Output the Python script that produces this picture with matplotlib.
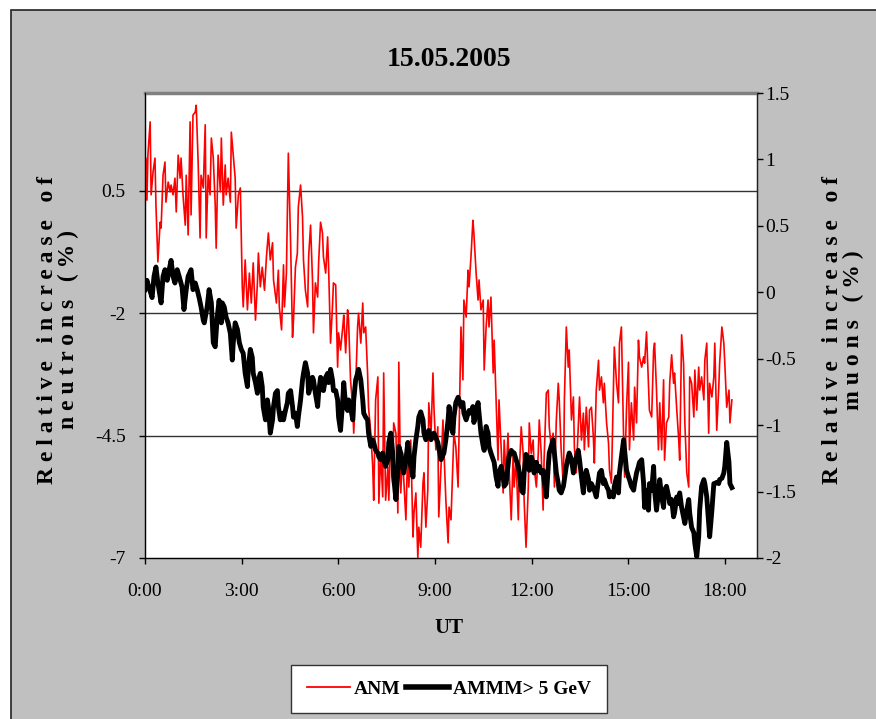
import matplotlib
matplotlib.use("Agg")
import matplotlib.pyplot as plt
from matplotlib.patches import Rectangle

plt.rcParams["font.family"] = ["Liberation Serif", "DejaVu Serif"]
plt.rcParams["axes.unicode_minus"] = False

# ANM neutron monitor, relative increase (%), left axis
anm_time = [
    0.00, 0.03, 0.06, 0.09, 0.16, 0.19, 0.25, 0.31, 0.34, 0.40, 0.47, 0.50, 0.56, 0.62, 0.65, 0.72,
    0.78, 0.81, 0.87, 0.93, 0.97, 1.03, 1.09, 1.12, 1.18, 1.25, 1.28, 1.34, 1.40, 1.43, 1.49, 1.56,
    1.59, 1.65, 1.71, 1.74, 1.81, 1.87, 1.90, 1.96, 2.02, 2.06, 2.12, 2.18, 2.21, 2.27, 2.34, 2.37,
    2.43, 2.49, 2.52, 2.58, 2.65, 2.68, 2.74, 2.80, 2.83, 2.90, 2.96, 3.02, 3.05, 3.11, 3.18, 3.24,
    3.30, 3.36, 3.43, 3.49, 3.52, 3.58, 3.64, 3.71, 3.77, 3.83, 3.89, 3.96, 3.99, 4.08, 4.14, 4.17,
    4.24, 4.30, 4.33, 4.39, 4.45, 4.52, 4.58, 4.61, 4.67, 4.73, 4.76, 4.83, 4.89, 4.92, 4.98, 5.05,
    5.08, 5.14, 5.20, 5.23, 5.29, 5.36, 5.39, 5.45, 5.51, 5.54, 5.61, 5.67, 5.70, 5.76, 5.82, 5.85,
    5.92, 5.98, 6.01, 6.07, 6.14, 6.17, 6.23, 6.29, 6.32, 6.38, 6.45, 6.48, 6.54, 6.60, 6.63, 6.70,
    6.76, 6.79, 6.85, 6.91, 6.94, 7.01, 7.07, 7.10, 7.16, 7.23, 7.26, 7.32, 7.38, 7.41, 7.47, 7.54,
    7.57, 7.63, 7.69, 7.72, 7.79, 7.85, 7.88, 7.94, 8.00, 8.03, 8.10, 8.16, 8.19, 8.25, 8.32, 8.35,
    8.41, 8.47, 8.50, 8.56, 8.63, 8.66, 8.72, 8.78, 8.81, 8.88, 8.94, 8.97, 9.03, 9.09, 9.12, 9.19,
    9.25, 9.28, 9.34, 9.41, 9.44, 9.50, 9.56, 9.59, 9.65, 9.72, 9.75, 9.81, 9.87, 9.90, 9.97, 10.03,
    10.06, 10.12, 10.18, 10.21, 10.28, 10.34, 10.37, 10.43, 10.50, 10.53, 10.59, 10.65, 10.68, 10.74,
    10.81, 10.84, 10.90, 10.96, 10.99, 11.06, 11.12, 11.15, 11.21, 11.27, 11.30, 11.37, 11.43, 11.46,
    11.52, 11.59, 11.62, 11.68, 11.74, 11.77, 11.83, 11.90, 11.93, 11.99, 12.05, 12.08, 12.15, 12.21,
    12.24, 12.30, 12.36, 12.39, 12.46, 12.52, 12.55, 12.61, 12.67, 12.71, 12.77, 12.83, 12.86, 12.92,
    12.99, 13.02, 13.08, 13.14, 13.17, 13.24, 13.30, 13.33, 13.39, 13.45, 13.49, 13.55, 13.61, 13.64,
    13.70, 13.77, 13.80, 13.86, 13.92, 13.95, 14.01, 14.08, 14.11, 14.17, 14.23, 14.26, 14.33, 14.39,
    14.42, 14.48, 14.54, 14.57, 14.64, 14.70, 14.73, 14.79, 14.86, 14.89, 14.95, 15.01, 15.04, 15.10,
    15.17, 15.20, 15.26, 15.32, 15.35, 15.42, 15.48, 15.51, 15.57, 15.63, 15.66, 15.73, 15.79, 15.82,
    15.88, 15.94, 15.98, 16.04, 16.10, 16.13, 16.19, 16.26, 16.29, 16.35, 16.41, 16.44, 16.51, 16.57,
    16.60, 16.66, 16.72, 16.76, 16.82, 16.88, 16.91, 16.97, 17.04, 17.07, 17.13, 17.19, 17.22, 17.28,
    17.35, 17.38, 17.44, 17.50, 17.53, 17.60, 17.66, 17.69, 17.75, 17.81, 17.84, 17.91, 17.97, 18.00,
    18.06, 18.13, 18.16, 18.22,
]
anm_values = [
    0.05, 1.17, 0.31, 1.23, 1.91, 0.42, 0.89, 1.17, 0.21, -0.95, -0.14, -0.26, 0.82, 1.09, 0.27, 0.68,
    0.48, 0.62, 0.42, 0.76, 0.07, 1.23, 0.76, 1.17, 0.42, -0.20, 0.82, -0.40, 1.91, 0.01, 2.05, 2.11,
    2.25, 1.09, -0.46, 0.82, 0.56, 1.85, -0.46, 0.82, 0.42, 1.58, 1.17, 0.21, -0.67, 1.23, 0.48, 1.58,
    0.21, 1.03, 0.42, 0.76, 0.27, 1.70, 1.23, 0.76, -0.26, 0.42, 0.56, -1.46, -1.87, -0.91, -1.93, -1.18,
    -1.79, -0.97, -2.14, -1.38, -0.77, -1.46, -1.06, -1.53, -0.85, -0.36, -0.91, -0.56, -1.32, -1.79, -1.12, -1.87,
    -2.34, -1.01, -1.87, -1.18, 1.27, -0.56, -2.49, -2.14, -1.06, -0.77, 0.17, 0.62, -0.03, -0.91, -1.53, -1.87,
    -0.85, -0.20, -1.32, -2.40, -1.38, -1.67, -0.97, -0.14, -0.36, -0.85, -1.18, -0.44, -1.06, -2.61, -1.87, -1.38,
    -1.42, -3.10, -2.40, -2.75, -2.28, -2.04, -2.81, -1.93, -2.14, -3.36, -3.92, -4.45, -3.51, -2.28, -2.00, -2.61,
    -1.79, -2.40, -2.28, -3.22, -3.92, -4.45, -5.14, -5.82, -3.77, -3.30, -5.88, -4.86, -5.75, -3.22, -5.82, -5.14,
    -5.82, -4.45, -5.47, -4.24, -4.45, -6.08, -3.00, -5.67, -4.86, -5.35, -6.22, -4.65, -5.55, -4.59, -6.57, -6.08,
    -5.67, -7.00, -6.37, -6.78, -5.47, -5.26, -6.37, -5.61, -3.83, -4.45, -3.22, -3.92, -4.79, -4.32, -6.16, -5.14,
    -4.18, -4.79, -5.82, -6.69, -5.96, -6.22, -5.00, -4.45, -4.73, -5.55, -4.45, -2.28, -3.36, -1.73, -2.08, -1.12,
    -1.46, -0.85, -0.10, -0.36, -1.18, -1.73, -1.32, -1.93, -1.73, -3.16, -2.28, -1.73, -2.28, -1.67,
    -3.22, -2.55, -3.77, -5.00, -3.77, -4.79, -5.67, -4.59, -5.35, -4.45, -5.14, -6.22, -4.86, -5.55,
    -5.00, -6.22, -5.26, -4.32, -4.86, -5.82, -6.78, -5.55, -4.24, -4.86, -4.59, -5.14, -5.55, -4.86,
    -4.18, -4.86, -6.02, -5.00, -3.63, -3.57, -4.32, -4.73, -4.45, -5.55, -4.18, -3.43, -3.77, -4.79,
    -5.55, -3.77, -2.28, -3.10, -2.75, -4.18, -3.71, -4.73, -5.26, -4.32, -3.71, -4.59, -4.04, -4.79,
    -3.92, -4.73, -3.98, -3.92, -4.53, -5.06, -3.57, -2.96, -3.57, -3.30, -3.83, -3.43, -4.24, -4.65,
    -5.20, -5.47, -3.57, -2.69, -3.43, -3.83, -2.61, -2.28, -4.59, -5.35, -3.92, -3.00, -4.79, -3.83,
    -4.59, -3.51, -4.24, -2.55, -2.89, -3.10, -2.89, -3.02, -2.38, -3.43, -3.98, -4.12, -2.75, -2.61,
    -3.57, -4.79, -3.83, -4.79, -3.36, -5.00, -4.24, -4.12, -3.43, -2.85, -3.43, -3.22, -3.98, -4.59,
    -5.00, -2.44, -3.02, -4.24, -5.26, -5.55, -3.30, -3.43, -4.12, -3.16, -3.98, -3.10, -3.57, -3.30,
    -3.77, -2.96, -2.61, -4.45, -3.43, -3.71, -3.30, -2.61, -4.39, -3.57, -3.02, -2.28, -2.61, -3.02,
    -3.92, -3.57, -4.24, -3.77,
]

# AMMM muon monitor (> 5 GeV), relative increase (%), right axis
ammm_time = [
    0.00, 0.06, 0.12, 0.22, 0.28, 0.34, 0.40, 0.50, 0.56, 0.62, 0.69, 0.75, 0.81, 0.87, 0.93, 1.00,
    1.06, 1.15, 1.21, 1.28, 1.34, 1.43, 1.49, 1.56, 1.62, 1.68, 1.74, 1.81, 1.84, 1.93, 1.99, 2.06,
    2.12, 2.18, 2.24, 2.30, 2.37, 2.40, 2.46, 2.52, 2.58, 2.65, 2.71, 2.74, 2.80, 2.87, 2.93, 2.99,
    3.05, 3.11, 3.18, 3.21, 3.27, 3.33, 3.36, 3.43, 3.49, 3.52, 3.58, 3.64, 3.67, 3.74, 3.80, 3.83,
    3.89, 3.96, 3.99, 4.05, 4.11, 4.14, 4.20, 4.27, 4.30, 4.36, 4.42, 4.45, 4.52, 4.58, 4.61, 4.67,
    4.73, 4.76, 4.83, 4.89, 4.92, 4.98, 5.05, 5.08, 5.14, 5.20, 5.23, 5.29, 5.36, 5.39, 5.45, 5.51,
    5.54, 5.61, 5.67, 5.70, 5.76, 5.82, 5.85, 5.92, 5.98, 6.01, 6.07, 6.14, 6.17, 6.23, 6.29, 6.32,
    6.38, 6.45, 6.48, 6.54, 6.60, 6.63, 6.70, 6.76, 6.79, 6.85, 6.91, 6.94, 7.01, 7.07, 7.10, 7.16,
    7.23, 7.26, 7.32, 7.38, 7.41, 7.47, 7.54, 7.57, 7.63, 7.69, 7.72, 7.79, 7.85, 7.88, 7.94, 8.00,
    8.03, 8.10, 8.16, 8.19, 8.25, 8.32, 8.35, 8.41, 8.47, 8.50, 8.56, 8.63, 8.66, 8.72, 8.78, 8.81,
    8.88, 8.97, 9.09, 9.19, 9.28, 9.34, 9.41, 9.44, 9.50, 9.56, 9.59, 9.65, 9.72, 9.75, 9.81, 9.87,
    9.90, 9.97, 10.03, 10.06, 10.12, 10.18, 10.21, 10.28, 10.34, 10.37, 10.43, 10.50, 10.53, 10.59,
    10.65, 10.68, 10.74, 10.81, 10.84, 10.90, 10.96, 10.99, 11.06, 11.12, 11.15, 11.21, 11.27, 11.30,
    11.37, 11.43, 11.46, 11.52, 11.59, 11.62, 11.68, 11.74, 11.77, 11.83, 11.90, 11.93, 11.99, 12.05,
    12.08, 12.15, 12.21, 12.24, 12.30, 12.36, 12.39, 12.46, 12.52, 12.55, 12.61, 12.67, 12.71, 12.77,
    12.83, 12.86, 12.92, 12.99, 13.02, 13.08, 13.14, 13.17, 13.24, 13.30, 13.33, 13.39, 13.45, 13.49,
    13.55, 13.61, 13.64, 13.70, 13.77, 13.80, 13.86, 13.95, 14.01, 14.08, 14.11, 14.17, 14.23, 14.26,
    14.33, 14.39, 14.42, 14.48, 14.54, 14.57, 14.64, 14.70, 14.73, 14.79, 14.86, 14.89, 14.95, 15.01,
    15.04, 15.10, 15.17, 15.20, 15.26, 15.32, 15.35, 15.42, 15.48, 15.51, 15.57, 15.63, 15.66, 15.73,
    15.79, 15.82, 15.88, 15.94, 15.98, 16.04, 16.10, 16.13, 16.19, 16.26, 16.29, 16.35, 16.41, 16.44,
    16.51, 16.57, 16.60, 16.66, 16.72, 16.76, 16.82, 16.88, 16.91, 16.97, 17.04, 17.07, 17.13, 17.19,
    17.22, 17.28, 17.35, 17.38, 17.44, 17.50, 17.53, 17.60, 17.66, 17.69, 17.75, 17.81, 17.84, 17.91,
    17.97, 18.00, 18.06, 18.13, 18.16, 18.22,
]
ammm_values = [
    0.02, 0.09, 0.04, -0.04, 0.12, 0.19, 0.07, -0.08, 0.12, 0.17, 0.09, 0.17, 0.24, 0.12, 0.07, 0.17,
    0.12, 0.04, -0.13, 0.02, 0.12, 0.17, 0.02, 0.07, 0.02, -0.04, -0.11, -0.21, -0.23, -0.11, 0.02, -0.08,
    -0.38, -0.41, -0.19, -0.06, -0.23, -0.08, -0.11, -0.19, -0.23, -0.31, -0.51, -0.38, -0.23, -0.28, -0.38, -0.43,
    -0.46, -0.61, -0.71, -0.56, -0.43, -0.49, -0.61, -0.68, -0.76, -0.66, -0.61, -0.71, -0.86, -0.96, -0.81, -0.86,
    -1.06, -0.96, -0.86, -0.76, -0.74, -0.86, -0.96, -0.91, -0.96, -0.89, -0.83, -0.76, -0.74, -0.86, -0.94, -0.91,
    -1.01, -0.94, -0.81, -0.66, -0.61, -0.53, -0.61, -0.76, -0.71, -0.64, -0.66, -0.76, -0.86, -0.76, -0.64, -0.66,
    -0.74, -0.64, -0.61, -0.68, -0.58, -0.66, -0.74, -0.74, -0.81, -0.94, -1.04, -0.81, -0.68, -0.86, -0.89, -0.81,
    -0.86, -0.96, -0.81, -0.66, -0.61, -0.58, -0.66, -0.81, -0.91, -0.94, -0.96, -1.06, -1.16, -1.11, -1.13, -1.19,
    -1.21, -1.24, -1.26, -1.21, -1.26, -1.31, -1.26, -1.13, -1.06, -1.21, -1.39, -1.56, -1.36, -1.16, -1.21, -1.31,
    -1.36, -1.26, -1.13, -1.21, -1.31, -1.39, -1.24, -1.11, -1.01, -0.94, -0.90, -0.96, -1.06, -1.11, -1.06, -1.04,
    -1.11, -1.06, -1.13, -1.26, -1.21, -1.11, -0.96, -0.86, -1.01, -1.06, -0.94, -0.83, -0.79, -0.81, -0.86, -0.83,
    -0.91, -0.96, -0.91, -0.89, -0.91, -0.86, -0.98, -0.91, -0.83, -0.91, -1.06, -1.16, -1.19, -1.01,
    -1.06, -1.16, -1.21, -1.26, -1.28, -1.39, -1.46, -1.36, -1.31, -1.39, -1.46, -1.44, -1.31, -1.24,
    -1.19, -1.21, -1.21, -1.26, -1.31, -1.36, -1.49, -1.51, -1.36, -1.22, -1.26, -1.34, -1.24, -1.28,
    -1.36, -1.28, -1.34, -1.31, -1.36, -1.34, -1.41, -1.54, -1.31, -1.21, -1.16, -1.11, -1.21, -1.36,
    -1.44, -1.49, -1.51, -1.46, -1.41, -1.31, -1.24, -1.21, -1.26, -1.36, -1.31, -1.24, -1.19, -1.26,
    -1.39, -1.51, -1.41, -1.34, -1.41, -1.49, -1.44, -1.49, -1.54, -1.41, -1.36, -1.34, -1.44, -1.41,
    -1.46, -1.49, -1.54, -1.51, -1.54, -1.46, -1.39, -1.51, -1.36, -1.24, -1.11, -1.19, -1.34, -1.39,
    -1.41, -1.46, -1.49, -1.44, -1.36, -1.31, -1.28, -1.26, -1.44, -1.62, -1.49, -1.64, -1.44, -1.49,
    -1.31, -1.49, -1.64, -1.51, -1.41, -1.54, -1.62, -1.49, -1.46, -1.54, -1.59, -1.56, -1.69, -1.66,
    -1.54, -1.59, -1.51, -1.62, -1.69, -1.74, -1.64, -1.56, -1.66, -1.77, -1.81, -1.89, -1.99, -1.84,
    -1.64, -1.46, -1.41, -1.44, -1.54, -1.74, -1.84, -1.64, -1.44, -1.44, -1.43, -1.44, -1.41, -1.40,
    -1.36, -1.31, -1.13, -1.28, -1.44, -1.47,
]

left_ticks = [0.5, -2, -4.5, -7]
right_ticks = [1.5, 1, 0.5, 0, -0.5, -1, -1.5, -2]
hour_ticks = [0, 3, 6, 9, 12, 15, 18]
hour_labels = ["0:00", "3:00", "6:00", "9:00", "12:00", "15:00", "18:00"]

W, H = 876, 719
fig = plt.figure(figsize=(W / 100, H / 100), dpi=100)
fig.patch.set_facecolor("white")
# grey chart area with dark outline on the left and top
fig.patches.append(Rectangle((10.5 / W, -0.02), 1.0, (H - 9.5) / H + 0.02, transform=fig.transFigure,
                             facecolor="#C0C0C0", edgecolor="#222222", linewidth=1.2, zorder=-10))

ax = fig.add_axes([145 / W, (H - 558) / H, 612 / W, 465 / H])
ax.set_facecolor("white")
ax.set_xlim(0, 19)
ax.set_ylim(-7, 2.5)
for y in left_ticks[:-1]:
    ax.axhline(y, color="#333333", linewidth=1.0, zorder=1)

ax.plot(anm_time, anm_values, color="#FF0000", linewidth=1.2, zorder=3)

ax.set_xticks(hour_ticks)
ax.set_xticklabels(hour_labels)
ax.set_yticks(left_ticks)
ax.set_yticklabels(["0.5", "-2", "-4.5", "-7"])
ax.tick_params(axis="x", direction="out", length=4, width=1, labelsize=14, colors="black", pad=14)
ax.tick_params(axis="y", direction="out", length=4, width=1, labelsize=14, colors="black", pad=10)
ax.spines["top"].set_color("#808080")
ax.spines["top"].set_linewidth(2.5)
for side in ["left", "bottom", "right"]:
    ax.spines[side].set_color("#222222")
    ax.spines[side].set_linewidth(1)

ax2 = ax.twinx()
ax2.set_ylim(-2, 1.5)
ax2.plot(ammm_time, ammm_values, color="black", linewidth=3.5, zorder=4)
ax2.set_yticks(right_ticks)
ax2.set_yticklabels(["1.5", "1", "0.5", "0", "-0.5", "-1", "-1.5", "-2"])
ax2.tick_params(axis="y", direction="out", length=4, width=1, labelsize=14, colors="black", pad=2)
ax2.spines["top"].set_visible(False)
ax2.spines["right"].set_color("#222222")

fig.text(449 / W, 1 - 60 / H, "15.05.2005", ha="center", va="center", fontsize=20, fontweight="bold")
fig.text(449 / W, 1 - 628 / H, "UT", ha="center", va="center", fontsize=15, fontweight="bold")

lab_kw = dict(ha="center", va="center", rotation=90, fontsize=17, fontweight="bold", linespacing=1.0)
fig.text(58 / W, 1 - 330 / H, "R e l a t i v e   i n c r e a s e   o f\nn e u t r o n s   ( % )", **lab_kw)
fig.text(843 / W, 1 - 330 / H, "R e l a t i v e   i n c r e a s e   o f\nm u o n s   ( % )", **lab_kw)

h1, = ax.plot([], [], color="#FF0000", linewidth=1.3, label="ANM")
h2, = ax.plot([], [], color="black", linewidth=4, label="AMMM> 5 GeV")
leg = fig.legend(handles=[h1, h2], loc="center", bbox_to_anchor=(449 / W, 1 - 689 / H), ncol=2,
                 frameon=True, fancybox=False, edgecolor="#333333", framealpha=1,
                 prop={"family": "Liberation Serif", "weight": "bold", "size": 14},
                 handlelength=2.2, handletextpad=0.2, columnspacing=0.3, borderpad=0.8,
                 borderaxespad=0)
leg.get_frame().set_linewidth(1)

fig.savefig("out.png", dpi=100, facecolor=fig.get_facecolor())
